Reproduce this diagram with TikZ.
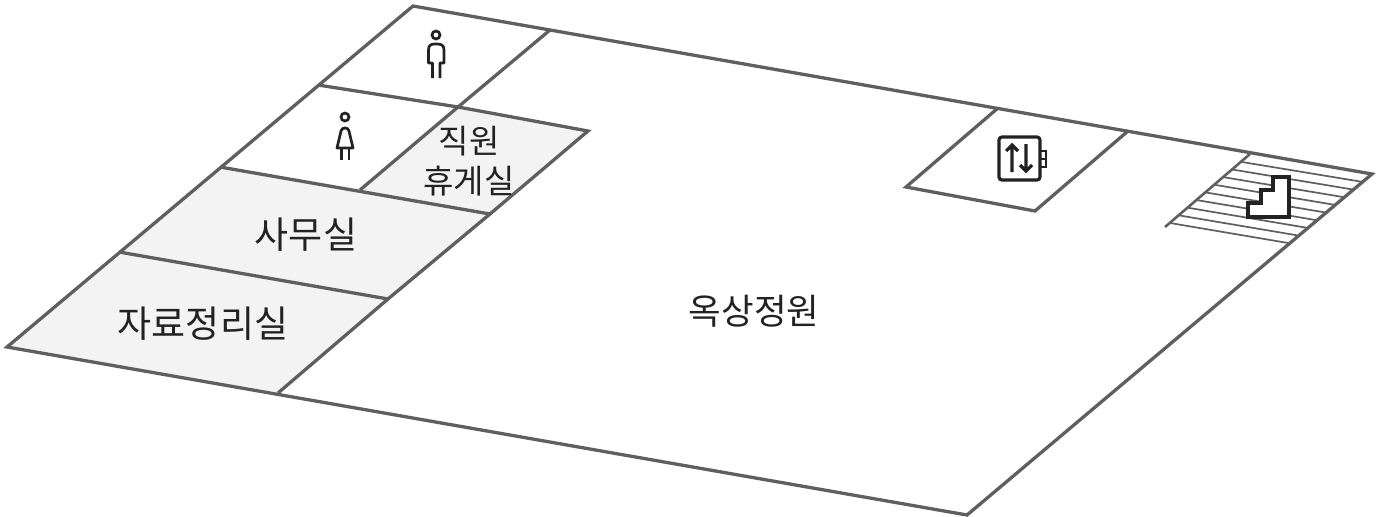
\documentclass[tikz,border=0pt]{standalone}
\usepackage{fontspec}
\setmainfont{Noto Sans CJK KR}
\usetikzlibrary{calc}
\usetikzlibrary{positioning}
\definecolor{wallgray}{HTML}{5F5F5F}
\definecolor{roomgray}{HTML}{F3F3F3}
\definecolor{icondark}{HTML}{222222}

\begin{document}
\begin{tikzpicture}[x=1pt, y=-1pt,
    wall/.style={draw=wallgray, line width=3.3pt, line join=miter},
    room/.style={fill=roomgray},
    tread/.style={draw=wallgray, line width=1.7pt},
    icon/.style={draw=icondark, line width=3.2pt},
    figure line/.style={draw=icondark, line width=2.7pt},
    biglabel/.style={text=icondark, font=\fontsize{37}{37}\selectfont, inner sep=0pt},
    smalllabel/.style={text=icondark, font=\fontsize{33}{40}\selectfont, inner sep=0pt, align=center}]
    \useasboundingbox (0, 0) rectangle (1377, 517);
    % outer corners
    \coordinate (top) at (413, 6);
    \coordinate (right) at (1372, 174);
    \coordinate (bottom) at (967, 515);
    \coordinate (left) at (7, 347);
    % rooms on the left
    \coordinate (a1) at (119, 252);
    \coordinate (a2) at (220, 167);
    \coordinate (a3) at (318, 85);
    \coordinate (b0) at (278, 393);
    \coordinate (b1) at (388, 299);
    \coordinate (b2) at (490, 214);
    \coordinate (b3) at (588, 131);
    \coordinate (c2) at (360, 190);
    \coordinate (c3) at (458, 107);
    \coordinate (c4) at (550, 30);
    % lift
    \coordinate (e1) at (998, 108);
    \coordinate (e2) at (1128, 131);
    \coordinate (e3) at (1035, 211);
    \coordinate (e4) at (906, 187);
    % stairs
    \coordinate (s1) at (1250, 154);
    \coordinate (s2) at (1165, 227);
    \coordinate (s3) at (1242, 162);
    \coordinate (s4) at (1170, 223);
    \coordinate (s5) at (1363, 182);
    \coordinate (s6) at (1288, 243);

    \fill[room] (left) -- (a1) -- (b1) -- (b0) -- cycle;
    \fill[room] (a1) -- (a2) -- (b2) -- (b1) -- cycle;
    \fill[room] (c3) -- (b3) -- (b2) -- (c2) -- cycle;

    \foreach \t in {0, 0.125, ..., 1.01}
    {
        \draw[tread] ($(s3)!\t!(s4)$) -- ($(s5)!\t!(s6)$);
    }

    \draw[wall] (top) -- (right) -- (bottom) -- (left) -- cycle;
    \draw[wall] (a1) -- (b1);
    \draw[wall] (a2) -- (b2);
    \draw[wall] (a3) -- (c3) -- (b3) -- (b2) -- (b1) -- (b0);
    \draw[wall] (c2) -- (c3) -- (c4);
    \draw[wall] (e1) -- (e4) -- (e3) -- (e2);
    \draw[wall, line width=2.6pt] (s1) -- (s2);

    % stairs icon
    \filldraw[icon, fill=white] (1248, 217) -- (1289, 217) -- (1289, 177) -- (1273, 177) -- (1273, 190) -- (1261, 190) -- (1261, 203) -- (1248, 203) -- cycle;

    % lift icon
    \draw[icon, rounded corners=3pt] (999, 137) rectangle (1040, 180);
    \draw[icon, line width=2pt] (1040, 151) -- (1046, 151) -- (1046, 167) -- (1040, 167) (1040, 159) -- (1046, 159);
    \draw[icon] (1012, 172) -- (1012, 145) (1006, 151) -- (1012, 145) -- (1018, 151);
    \draw[icon] (1026, 144) -- (1026, 171) (1020, 165) -- (1026, 171) -- (1032, 165);

    % man
    \draw[figure line] (436, 35) circle (4);
    \draw[figure line, line join=round] (432.5, 78) -- (432.5, 63) -- (428.5, 63) -- (428.5, 50) .. controls (428.5, 45) and (431, 44) .. (435, 44) -- (437, 44) .. controls (441, 44) and (444, 45) .. (444, 50) -- (444, 63) -- (440, 63) -- (440, 78);

    % woman
    \draw[figure line] (345, 117) circle (4);
    \draw[figure line, line join=round] (337, 148) -- (341, 131) .. controls (341.5, 127) and (348.5, 127) .. (349, 131) -- (353, 148) -- cycle;
    \draw[figure line] (341.5, 148) -- (341.5, 160) (349, 148) -- (349, 160);

    \node[biglabel] (office) at (306, 235) {사무실};
    \node[biglabel] (archive) at (203, 324) {자료정리실};
    \node[biglabel, font=\fontsize{35.5}{36}\selectfont] (garden) at (754, 311) {옥상정원};
    \node[smalllabel] (lounge) at (469, 161) {직원\\휴게실};
\end{tikzpicture}
\end{document}
